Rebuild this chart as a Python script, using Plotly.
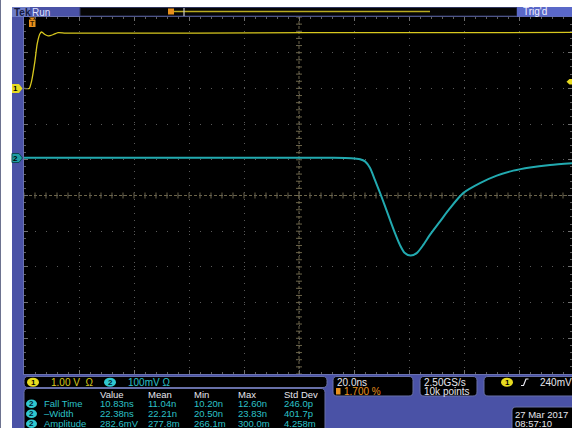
import plotly.graph_objects as go

# ---------------- data (time in ns, t = 0 at trigger; volts) ----------------
ch1_t = [-3.0, -1.1, -0.2, 1.0, 1.8, 2.8, 3.4, 4.6, 5.8, 6.5, 7.7, 9.4, 12.0, 20.0, 60.0, 100.0, 150.0, 196.3]
ch1_v = [0.0, 0.0, 0.22, 0.78, 1.25, 1.53, 1.58, 1.51, 1.47, 1.48, 1.51, 1.56, 1.55, 1.55, 1.55, 1.56, 1.56, 1.57]

ch2_t = [-3.0, 40.0, 80.0, 108.3, 116.0, 119.2, 121.0, 122.8, 124.6, 126.5, 128.3, 130.1, 131.9, 133.7,
         135.5, 137.6, 139.8, 142.2, 144.6, 148.3, 151.9, 156.7, 162.8, 168.9, 174.9, 181.0, 188.3, 196.3]
ch2_v = [0.0, 0.0, 0.0, 0.0, -0.001, -0.004, -0.010, -0.028, -0.062, -0.099, -0.136, -0.174, -0.211, -0.244,
         -0.267, -0.274, -0.267, -0.244, -0.216, -0.178, -0.141, -0.099, -0.071, -0.050, -0.036, -0.027, -0.020, -0.015]

ch1_scale, ch1_center = 1.0, -3.0      # V/div, volts at screen centre
ch2_scale, ch2_center = 0.1, -0.1056
time_per_div, t_center = 20.0, 97.0

meas_header = ["Value", "Mean", "Min", "Max", "Std Dev"]
meas_names = ["Fall Time", "\u2013Width", "Amplitude"]
meas_value = ["10.83ns", "22.38ns", "282.6mV"]
meas_mean = ["11.04n", "22.21n", "277.8m"]
meas_min = ["10.20n", "20.50n", "266.1m"]
meas_max = ["12.60n", "23.83n", "300.0m"]
meas_std = ["246.0p", "401.7p", "4.258m"]

# ---------------- layout helpers ----------------
W, H = 572, 428
L, T, B = 24, 17, 54
PW, PH = W - L, H - T - B


def px(x):
    return (x - L) / PW


def py(y):
    return (H - B - y) / PH


BLUE = "#4a52a6"
YEL = "#d8c81e"
CYA = "#2cc0c8"
WHITE = "#e6e6ee"
ORANGE = "#e8901c"
FONT = "Liberation Sans"

shapes = []
annos = []


def rect(x0, y0, x1, y1, fill, line=None, layer="above"):
    shapes.append(dict(type="rect", xref="paper", yref="paper", x0=px(x0), x1=px(x1), y0=py(y1), y1=py(y0),
                       fillcolor=fill, line=dict(width=1 if line else 0, color=line or fill), layer=layer))


def rrect(x0, y0, x1, y1, r, fill, line):
    pts = [("M", x0 + r, y0), ("L", x1 - r, y0), ("Q", x1, y0, x1, y0 + r), ("L", x1, y1 - r),
           ("Q", x1, y1, x1 - r, y1), ("L", x0 + r, y1), ("Q", x0, y1, x0, y1 - r), ("L", x0, y0 + r),
           ("Q", x0, y0, x0 + r, y0)]
    s = ""
    for p in pts:
        cmd = p[0]
        coords = p[1:]
        parts = []
        for i in range(0, len(coords), 2):
            parts.append(f"{px(coords[i]):.5f},{py(coords[i + 1]):.5f}")
        s += cmd + " " + " ".join(parts) + " "
    s += "Z"
    shapes.append(dict(type="path", xref="paper", yref="paper", path=s, fillcolor=fill,
                       line=dict(width=1, color=line), layer="above"))


def poly(points, fill, line=None):
    s = "M " + " L ".join(f"{px(a):.5f},{py(b):.5f}" for a, b in points) + " Z"
    shapes.append(dict(type="path", xref="paper", yref="paper", path=s, fillcolor=fill,
                       line=dict(width=1 if line else 0, color=line or fill), layer="above"))


def text(x, y, s, color, size=10, anchor="left", bold=False):
    annos.append(dict(xref="paper", yref="paper", x=px(x), y=py(y), text=s, showarrow=False,
                      xanchor=anchor, yanchor="middle", borderpad=0,
                      font=dict(family=FONT, size=size, color=color, weight="bold" if bold else "normal")))


def badge(cx, cy, digit, fill, tcolor, w=12, h=9):
    shapes.append(dict(type="circle", xref="paper", yref="paper", x0=px(cx - w / 2), x1=px(cx + w / 2),
                       y0=py(cy + h / 2), y1=py(cy - h / 2), fillcolor=fill, line=dict(width=0), layer="above"))
    text(cx, cy, digit, tcolor, size=8, anchor="center", bold=True)


# surrounding chrome
rect(0, 0, 572, 7, "#ffffff")
rect(1, 0, 12, 428, "#ffffff")
rect(0, 0, 1, 428, "#6d7390")
rect(12, 7, 30, 17, "#6e7cc6")
text(13, 12, "Tek", "#141a40", size=10, bold=True)
text(31, 12, "Run", "#dde0ff", size=10)
rect(80, 7.5, 517, 16, "#050505", line="#30365e")
shapes.append(dict(type="line", xref="paper", yref="paper", x0=px(170), x1=px(430), y0=py(11.5), y1=py(11.5),
                   line=dict(color="#b8aa20", width=1.3), layer="above"))
shapes.append(dict(type="line", xref="paper", yref="paper", x0=px(184), x1=px(184), y0=py(8), y1=py(16),
                   line=dict(color="#c8c8c8", width=1.2), layer="above"))
rect(168, 8.5, 174, 14.5, ORANGE)
rect(517, 7, 572, 16.5, "#5a68c8")
text(522, 11.8, "Trig'd", "#f0f0ff", size=10)

# channel markers on the left, trigger markers
poly([(12, 84), (19, 84), (22.5, 88.5), (19, 93), (12, 93)], "#e8dc20")
text(15.5, 88.5, "1", "#000000", size=8, anchor="center", bold=True)
poly([(12, 153.5), (19, 153.5), (22.5, 158), (19, 162.5), (12, 162.5)], "#1e9ea4", line="#0c4a50")
text(15.5, 158, "2", "#000000", size=8, anchor="center", bold=True)
poly([(572, 79), (569.5, 79), (566.5, 81.8), (569.5, 84.5), (572, 84.5)], "#e8dc20")
poly([(29, 17.5), (35.5, 17.5), (32.25, 20)], ORANGE)
rect(29, 19.5, 35.5, 27, ORANGE)
text(32.25, 23.3, "T", "#3a2000", size=7, anchor="center", bold=True)

# bottom info panel
rrect(24, 376.5, 327, 387.5, 4, "#000000", "#6870a8")
badge(33, 382.2, "1", "#e8dc20", "#000000")
text(50, 382.3, "1.00 V  \u03a9", YEL)
badge(110, 382.2, "2", "#30c8d0", "#002030")
text(127, 382.3, "100mV \u03a9", CYA)

rrect(24, 388.5, 325, 434, 4, "#000000", "#6870a8")
hx = [98.7, 146.7, 192.7, 237.3, 282.7]
for x, s in zip(hx, meas_header):
    text(x, 394, s, WHITE, size=9.5)
rows_y = [403.7, 413.7, 423.7]
for i, yy in enumerate(rows_y):
    badge(31.5, yy, "2", "#30c8d0", "#002030", w=11, h=8.5)
    text(42.5, yy, meas_names[i], CYA, size=9.5)
    for x, col in zip(hx, [meas_value, meas_mean, meas_min, meas_max, meas_std]):
        text(x, yy, col[i], CYA, size=9.5)

rrect(333, 376.5, 413, 396, 4, "#000000", "#6870a8")
text(336, 382.3, "20.0ns", WHITE)
rect(336, 388, 340.5, 394.5, ORANGE)
text(342.5, 391.3, "1.700 %", ORANGE)

rrect(420, 376.5, 477, 396, 4, "#000000", "#6870a8")
text(423, 382.3, "2.50GS/s", WHITE)
text(423, 391.3, "10k points", WHITE)

rrect(484, 376.5, 576, 396, 4, "#000000", "#6870a8")
badge(507, 382.2, "1", "#e8dc20", "#000000")
shapes.append(dict(type="path", xref="paper", yref="paper",
                   path=f"M {px(521):.5f},{py(385.5):.5f} L {px(523.5):.5f},{py(385.5):.5f} "
                        f"L {px(526):.5f},{py(379):.5f} L {px(528.5):.5f},{py(379):.5f}",
                   line=dict(color=WHITE, width=1.2), layer="above"))
text(539, 382.3, "240mV", WHITE)

rrect(512, 407, 576, 432, 4, "#000000", "#6870a8")
text(514, 414.3, "27 Mar 2017", WHITE, size=9.5)
text(514, 423, "08:57:10", WHITE, size=9.5)

# graticule centre cross with fine ticks (data coordinates)
t_left = t_center - 5 * time_per_div
t_right = t_center + (W - 299) / 55.0 * time_per_div
y1_lo, y1_hi = ch1_center - 5 * ch1_scale, ch1_center + 5 * ch1_scale
y2_lo, y2_hi = ch2_center - 5 * ch2_scale, ch2_center + 5 * ch2_scale
CROSS = "rgba(120,112,82,0.9)"
shapes.append(dict(type="line", xref="x", yref="y", x0=t_center, x1=t_center, y0=y1_lo, y1=y1_hi,
                   line=dict(color=CROSS, width=1, dash="3px,2px"), layer="below"))
shapes.append(dict(type="line", xref="x", yref="y", x0=t_left, x1=t_right, y0=ch1_center, y1=ch1_center,
                   line=dict(color=CROSS, width=1, dash="3px,2px"), layer="below"))
dx = 3 / 55.0 * time_per_div
dy = 3 / 35.7 * ch1_scale
for k in range(51):
    v = y1_lo + k * ch1_scale / 5
    shapes.append(dict(type="line", xref="x", yref="y", x0=t_center - dx, x1=t_center + dx, y0=v, y1=v,
                       line=dict(color=CROSS, width=1), layer="below"))
for k in range(51):
    t = t_left + k * time_per_div / 5
    if t > t_right:
        break
    shapes.append(dict(type="line", xref="x", yref="y", x0=t, x1=t, y0=ch1_center - dy, y1=ch1_center + dy,
                       line=dict(color=CROSS, width=1), layer="below"))

fig = go.Figure()
fig.add_trace(go.Scatter(x=ch1_t, y=ch1_v, mode="lines", line=dict(color=YEL, width=1.3, shape="spline", smoothing=0.6),
                         yaxis="y", hoverinfo="skip", showlegend=False))
fig.add_trace(go.Scatter(x=ch2_t, y=ch2_v, mode="lines", line=dict(color="#22aab0", width=2, shape="spline", smoothing=0.7),
                         yaxis="y2", hoverinfo="skip", showlegend=False))

GRID = "#5a5a5a"
EDGE = "#6a72b0"
fig.update_layout(
    width=W, height=H, margin=dict(l=L, r=0, t=T, b=B, pad=0),
    paper_bgcolor=BLUE, plot_bgcolor="#000000",
    showlegend=False, hovermode=False,
    xaxis=dict(range=[t_left, t_right], tick0=t_left, dtick=time_per_div, showgrid=True, gridcolor=GRID,
               griddash="1px,6px", gridwidth=1, zeroline=False, showticklabels=False,
               showline=True, linecolor=EDGE, mirror="ticks", ticks="inside", ticklen=4, tickcolor="#707070",
               minor=dict(tick0=t_left, dtick=time_per_div / 5, ticks="inside", ticklen=2, tickcolor="#606060"),
               fixedrange=True),
    yaxis=dict(range=[y1_lo, y1_hi], tick0=y1_lo, dtick=ch1_scale, showgrid=True, gridcolor=GRID,
               griddash="1px,10px", gridwidth=1, zeroline=False, showticklabels=False,
               showline=True, linecolor=EDGE, mirror="ticks", ticks="inside", ticklen=4, tickcolor="#707070",
               minor=dict(tick0=y1_lo, dtick=ch1_scale / 5, ticks="inside", ticklen=2, tickcolor="#606060"),
               fixedrange=True),
    yaxis2=dict(range=[y2_lo, y2_hi], overlaying="y", visible=False, fixedrange=True),
    shapes=shapes, annotations=annos,
)

fig.write_html("out.html")
